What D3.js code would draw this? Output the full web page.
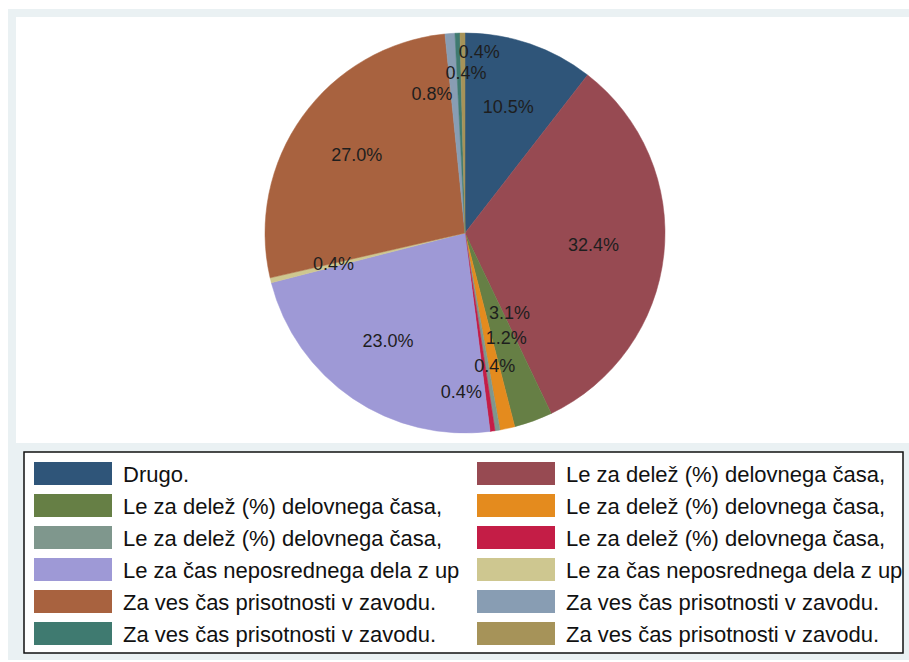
<!DOCTYPE html>
<html><head><meta charset="utf-8">
<script src="https://cdn.jsdelivr.net/npm/d3@7/dist/d3.min.js"></script>
<style>html,body{margin:0;padding:0;background:#fff;}svg{display:block;}</style>
</head><body>
<script>
const categories = [
  "Drugo.",
  "Le za delež (%) delovnega časa,",
  "Le za delež (%) delovnega časa,",
  "Le za delež (%) delovnega časa,",
  "Le za delež (%) delovnega časa,",
  "Le za delež (%) delovnega časa,",
  "Le za čas neposrednega dela z up",
  "Le za čas neposrednega dela z up",
  "Za ves čas prisotnosti v zavodu.",
  "Za ves čas prisotnosti v zavodu.",
  "Za ves čas prisotnosti v zavodu.",
  "Za ves čas prisotnosti v zavodu."
];
const values = [10.5, 32.4, 3.1, 1.2, 0.4, 0.4, 23.0, 0.4, 27.0, 0.8, 0.4, 0.4];
const colors = ["#2f5579","#974a52","#667f45","#e48b1e","#7f978d","#c41d46",
                "#9e99d6","#cec790","#a8623f","#889db3","#3f7a70","#a69359"];
// label nudges (px) for crowded small slices
const labelNudge = [[0,0],[-4,-2],[-1,-45],[13,-25],[8,1],[-22,27],[-2,-2],[-2,-1],[0,0],[-23,-6],[6,-27],[16,-48]];

const W = 909, H = 662;
const svg = d3.select("body").append("svg").attr("width", W).attr("height", H);

// graph region background
svg.append("rect").attr("x", 8).attr("y", 9).attr("width", W - 8).attr("height", 651).attr("fill", "#eaf1f3");
// plot region
svg.append("rect").attr("x", 16).attr("y", 17).attr("width", W - 16).attr("height", 426).attr("fill", "#ffffff");

const cx = 465, cy = 233, R = 200;
const pie = d3.pie().sort(null).value(d => d).startAngle(0).endAngle(2 * Math.PI);
const arcs = pie(values);
const arc = d3.arc().innerRadius(0).outerRadius(R);
const labelArc = d3.arc().innerRadius(R * 2 / 3).outerRadius(R * 2 / 3);

const g = svg.append("g").attr("transform", `translate(${cx},${cy})`);
g.selectAll("path.slice").data(arcs).enter().append("path")
  .attr("class", "slice")
  .attr("d", arc)
  .attr("fill", (d, i) => colors[i])
  .attr("stroke", (d, i) => colors[i])
  .attr("stroke-width", 0.5);

g.selectAll("text.plabel").data(arcs).enter().append("text")
  .attr("class", "plabel")
  .attr("x", (d, i) => labelArc.centroid(d)[0] + labelNudge[i][0])
  .attr("y", (d, i) => labelArc.centroid(d)[1] + labelNudge[i][1])
  .attr("text-anchor", "middle")
  .attr("dominant-baseline", "central")
  .attr("font-family", "Liberation Sans, Arial, sans-serif")
  .attr("font-size", 18)
  .attr("fill", "#1e1e1e")
  .text(d => d3.format(".1f")(d.data) + "%");

// legend
const lg = svg.append("g");
lg.append("rect").attr("x", 24).attr("y", 452).attr("width", 879).attr("height", 201)
  .attr("fill", "#ffffff").attr("stroke", "#111").attr("stroke-width", 1.5);

const colX = [34, 477];
const rowY = d3.range(6).map(r => 462 + r * 32);
const items = lg.selectAll("g.item").data(categories).enter().append("g")
  .attr("class", "item")
  .attr("transform", (d, i) => `translate(${colX[i % 2]},${rowY[Math.floor(i / 2)]})`);
items.append("rect").attr("width", 78).attr("height", 23).attr("fill", (d, i) => colors[i]);
items.append("text").attr("x", 89).attr("y", 20)
  .attr("font-family", "Liberation Sans, Arial, sans-serif")
  .attr("font-size", 22)
  .attr("fill", "#111")
  .text(d => d);
</script>
</body></html>
